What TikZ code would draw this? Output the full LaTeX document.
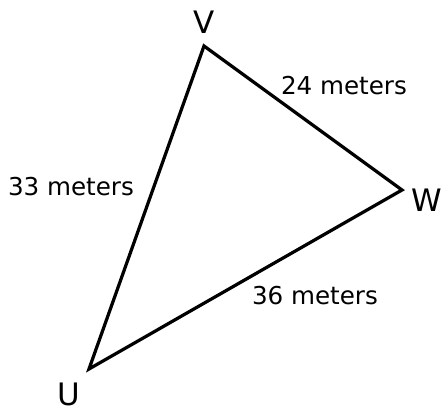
\documentclass[tikz,border=0pt]{standalone}
\usepackage{fontspec}
\setmainfont{DejaVu Sans}
\usepackage{tikz}

\begin{document}
\begin{tikzpicture}[line join=miter]
    \tikzset{side/.style={line width=2.3pt, black},
             lbl/.style={font=\fontsize{17.5}{21}\selectfont, inner sep=0pt},
             vtx/.style={font=\fontsize{22}{26}\selectfont, inner sep=0pt}}
    \useasboundingbox (0,0) rectangle (11.2,10.275);

    % Vertices
    \coordinate (U) at (2.225,1.05);
    \coordinate (V) at (5.1,9.125);
    \coordinate (W) at (10.05,5.525);
    \node[vtx] (Ulab) at (1.725,0.42) {U};
    \node[vtx] (Vlab) at (5.1,9.725) {V};
    \node[vtx] (Wlab) at (10.675,5.275) {W};

    % Sides
    \draw[side] (U) -- (V) -- (W) -- cycle;
    \node[lbl] (uv) at (1.775,5.6) {33 meters};
    \node[lbl] (vw) at (8.6,8.125) {24 meters};
    \node[lbl] (wu) at (7.875,2.875) {36 meters};
\end{tikzpicture}
\end{document}
